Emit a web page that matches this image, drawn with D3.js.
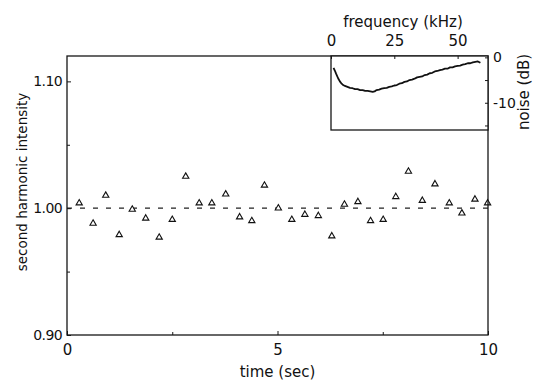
<!DOCTYPE html>
<html>
<head>
<meta charset="utf-8">
<script src="https://cdn.jsdelivr.net/npm/d3@7/dist/d3.min.js"></script>
<style>
	body { margin: 0; background: #fff; }
	svg text { font-family: 'DejaVu Sans', 'Liberation Sans', sans-serif; fill: #111; }
	.frame { fill: none; stroke: #161616; stroke-width: 1.3; }
	.axis path { display: none; }
	.axis line { stroke: #161616; stroke-width: 1; }
</style>
</head>
<body>
<svg id="chart" width="535" height="381"></svg>
<script>
//Data------------------------------------------------------------------------
var timeSec = [0.29, 0.62, 0.92, 1.24, 1.55, 1.87, 2.19, 2.50, 2.82, 3.14,
	3.44, 3.77, 4.10, 4.39, 4.69, 5.02, 5.34, 5.65, 5.97, 6.29,
	6.59, 6.91, 7.21, 7.51, 7.81, 8.11, 8.44, 8.74, 9.08, 9.38,
	9.69, 9.99];
var intensity = [1.004, 0.988, 1.010, 0.979, 0.999, 0.992, 0.977, 0.991, 1.025, 1.004,
	1.004, 1.011, 0.993, 0.990, 1.018, 1.000, 0.991, 0.995, 0.994, 0.978,
	1.003, 1.005, 0.990, 0.991, 1.009, 1.029, 1.006, 1.019, 1.004, 0.996,
	1.007, 1.004];
var baseline = 1.00;

//inset: noise spectrum
var freqKHz = [1.0, 1.5, 2.0, 2.8, 3.5, 4.2, 4.8, 5.5, 6.5, 7.5, 8.5, 9.5, 10.5, 11.5,
	12.5, 13.5, 14.5, 15.5, 16.5, 17.2, 18, 19, 20, 21, 22, 23, 24, 25, 26, 27, 28,
	29, 30, 31, 32, 33, 34, 35, 36, 37, 38, 39, 40, 41, 42, 43, 44, 45, 46, 47, 48,
	49, 50, 51, 52, 53, 54, 55, 56, 57, 58, 59];
var noiseDb = [-2.3, -2.9, -3.6, -4.6, -5.3, -5.8, -6.1, -6.3, -6.5, -6.7, -6.8, -7.0, -7.0, -7.2,
	-7.2, -7.4, -7.4, -7.5, -7.6, -7.5, -7.2, -7.1, -6.9, -6.8, -6.7, -6.5, -6.4, -6.2, -6.1, -5.8, -5.7,
	-5.4, -5.3, -5.0, -4.9, -4.7, -4.4, -4.3, -4.2, -3.9, -3.8, -3.5, -3.4, -3.1, -3.0, -2.8, -2.7, -2.5, -2.5, -2.2, -2.2,
	-2.0, -1.9, -1.8, -1.6, -1.5, -1.3, -1.3, -1.1, -1.0, -0.9, -1.2];

var xTicks = [0, 5, 10];
var xMinorTicks = [2.5, 7.5];
var yTicks = [0.90, 1.00, 1.10];
var yMinorTicks = [0.95, 1.05];
var insetXTicks = [0, 25, 50];
var insetYTicks = [0, -5, -10, -15];

//Scales---------------------------------------------------------------------
var svg = d3.select('#chart');

var x = d3.scaleLinear().domain([0, 10]).range([67, 488]);
var y = d3.scaleLinear().domain([0.90, 1.12]).range([335, 56]);

var fx = d3.scaleLinear().domain([0, 62]).range([331, 488]);
var fy = d3.scaleLinear().domain([-16, 0.3]).range([130, 56]);

//Main plot------------------------------------------------------------------
svg.append('line')
	.attr('x1', x(0)).attr('x2', x(10))
	.attr('y1', y(baseline)).attr('y2', y(baseline))
	.style('stroke', '#222')
	.style('stroke-width', 1.2)
	.style('stroke-dasharray', '5,8');

var tri = d3.symbol().type(d3.symbolTriangle).size(17);
svg.append('g').selectAll('path')
	.data(timeSec)
	.enter()
	.append('path')
	.attr('d', tri)
	.attr('transform', function (d, i) {
		return 'translate(' + x(d) + ',' + y(intensity[i]) + ')';
	})
	.style('fill', '#fff')
	.style('stroke', '#111')
	.style('stroke-width', 1.1);

svg.append('g').attr('class', 'axis')
	.attr('transform', 'translate(0,' + y.range()[0] + ')')
	.call(d3.axisBottom(x).tickValues(xTicks).tickSizeInner(-4).tickPadding(9)
		.tickFormat(d3.format('d')))
	.selectAll('text').style('font-size', '15px');
svg.append('g').attr('class', 'axis')
	.attr('transform', 'translate(0,' + y.range()[0] + ')')
	.call(d3.axisBottom(x).tickValues(xMinorTicks).tickSizeInner(-3).tickFormat(''));

svg.append('g').attr('class', 'axis')
	.attr('transform', 'translate(' + x.range()[0] + ',0)')
	.call(d3.axisLeft(y).tickValues(yTicks).tickSizeInner(-4).tickPadding(5)
		.tickFormat(d3.format('.2f')))
	.selectAll('text').style('font-size', '14px').style('letter-spacing', '-0.6px');
svg.append('g').attr('class', 'axis')
	.attr('transform', 'translate(' + x.range()[0] + ',0)')
	.call(d3.axisLeft(y).tickValues(yMinorTicks).tickSizeInner(-3).tickFormat(''));

svg.append('rect').attr('class', 'frame')
	.attr('x', x(0)).attr('y', y(1.12))
	.attr('width', x(10) - x(0)).attr('height', y(0.90) - y(1.12));

svg.append('text')
	.attr('x', (x(0) + x(10)) / 2).attr('y', 377)
	.attr('text-anchor', 'middle')
	.style('font-size', '15px')
	.text('time (sec)');

svg.append('text')
	.attr('transform', 'translate(27,182) rotate(-90)')
	.attr('text-anchor', 'middle')
	.style('font-size', '13.5px')
	.text('second harmonic intensity');

//Inset----------------------------------------------------------------------
var inset = svg.append('g').classed('inset', true);

inset.append('rect')
	.attr('x', fx(0)).attr('y', fy.range()[1])
	.attr('width', fx(62) - fx(0)).attr('height', fy.range()[0] - fy.range()[1])
	.style('fill', '#fff');

inset.append('path')
	.datum(freqKHz)
	.attr('d', d3.line()
		.x(function (d) { return fx(d); })
		.y(function (d, i) { return fy(noiseDb[i]); }))
	.style('fill', 'none')
	.style('stroke', '#111')
	.style('stroke-width', 1.8)
	.style('stroke-linejoin', 'round');

inset.append('g').attr('class', 'axis')
	.attr('transform', 'translate(0,' + fy.range()[1] + ')')
	.call(d3.axisTop(fx).tickValues(insetXTicks).tickSizeInner(-3).tickPadding(10)
		.tickFormat(d3.format('d')))
	.selectAll('text').style('font-size', '15px');

inset.append('g').attr('class', 'axis')
	.attr('transform', 'translate(' + fx.range()[1] + ',0)')
	.call(d3.axisRight(fy).tickValues(insetYTicks).tickSizeInner(-3).tickPadding(5)
		.tickFormat(function (d) { return d % 10 === 0 ? String(d) : ''; }))
	.selectAll('text').style('font-size', '14px');

inset.append('rect').attr('class', 'frame')
	.attr('x', fx(0)).attr('y', fy.range()[1])
	.attr('width', fx(62) - fx(0)).attr('height', fy.range()[0] - fy.range()[1]);

inset.append('text')
	.attr('x', 403).attr('y', 27)
	.attr('text-anchor', 'middle')
	.style('font-size', '15px')
	.text('frequency (kHz)');

inset.append('text')
	.attr('transform', 'translate(529,92) rotate(-90)')
	.attr('text-anchor', 'middle')
	.style('font-size', '15px')
	.text('noise (dB)');
</script>
</body>
</html>
